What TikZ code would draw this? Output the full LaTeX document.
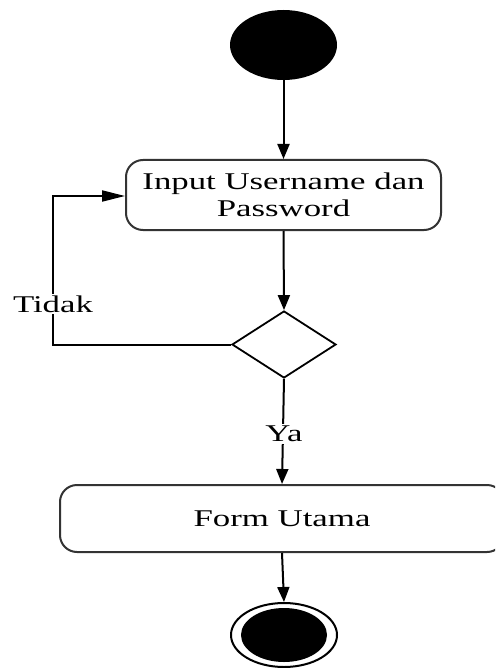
\documentclass[tikz,border=0pt]{standalone}
\usepackage{fontspec}
\setmainfont{Liberation Serif}[FakeStretch=1.45]
\usetikzlibrary{shapes.geometric,arrows.meta}
\begin{document}
\begin{tikzpicture}[x=1pt,y=-1pt,
  flow/.style={line width=2pt,draw=black},
  vtip/.style={-{Triangle[length=15pt,width=12pt]}},
  htip/.style={-{Triangle[length=23pt,width=11pt]}},
  actbox/.style={draw=black!80,line width=2pt,rounded corners=17pt,inner sep=0pt,
    font=\fontsize{24}{27}\selectfont,align=center},
  lbl/.style={fill=white,inner sep=2pt,font=\fontsize{24}{27}\selectfont}]
  \clip (0,0) rectangle (495,668);
  \fill[white] (0,0) rectangle (495,668);

  % initial node
  \node[ellipse,fill=black,minimum width=107pt,minimum height=70pt,inner sep=0pt] (start) at (283.5,45) {};

  % activities
  \node[actbox,minimum width=315pt,minimum height=70pt] (input) at (283.5,195)
    {Input Username dan\\Password};
  \node[diamond,draw,line width=1.8pt,minimum width=104pt,minimum height=67pt,inner sep=0pt,aspect=1.55] (dec) at (284,344.5) {};
  \node[actbox,minimum width=444pt,minimum height=67pt] (form) at (282,518.5) {Form Utama};

  % final node
  \node[ellipse,draw,line width=2pt,minimum width=106pt,minimum height=64pt,inner sep=0pt] (end) at (284,635) {};
  \node[ellipse,fill=black,minimum width=86pt,minimum height=54pt,inner sep=0pt] (endin) at (end.center) {};

  % flows
  \draw[flow,vtip] (start.south) -- (input.north);
  \draw[flow,vtip] (input.south) -- (dec.north);
  \coordinate (lp) at (53,344.5);
  \coordinate (lt) at (53,196);
  \draw[flow,htip] (dec.west) -- (lp) -- (lt) -- (lt -| input.west);
  \node[lbl] (tidak) at (53,304) {Tidak};
  \draw[flow,vtip] (dec.south) -- (form.north);
  \node[lbl] (ya) at (284,434) {Ya};
  \draw[flow,vtip] (form.south) -- (end.north);
\end{tikzpicture}
\end{document}
